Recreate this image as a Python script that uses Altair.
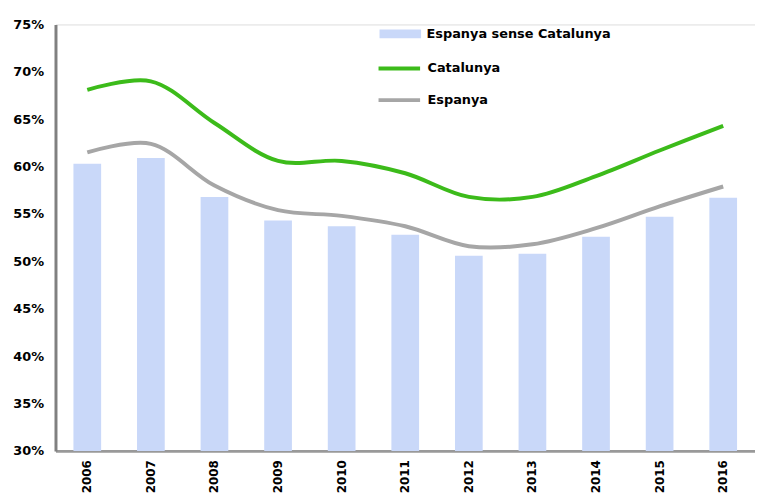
import altair as alt
import pandas as pd

years = ["2006", "2007", "2008", "2009", "2010", "2011", "2012", "2013", "2014", "2015", "2016"]
espanya_sense_cat = [60.3, 60.9, 56.8, 54.3, 53.7, 52.8, 50.6, 50.8, 52.6, 54.7, 56.7]
catalunya = [68.1, 69.0, 64.6, 60.6, 60.6, 59.3, 56.8, 56.8, 59.0, 61.7, 64.3]
espanya = [61.5, 62.4, 58.0, 55.4, 54.8, 53.7, 51.6, 51.8, 53.5, 55.8, 57.9]

bar_name = "Espanya sense Catalunya"
line_names = ["Catalunya", "Espanya"]

bars_df = pd.DataFrame({"year": years, "value": espanya_sense_cat, "serie": bar_name})
lines_df = pd.concat([
    pd.DataFrame({"year": years, "value": catalunya, "serie": "Catalunya"}),
    pd.DataFrame({"year": years, "value": espanya, "serie": "Espanya"}),
])

FONT = "DejaVu Sans"

x = alt.X("year:N", title=None, sort=years,
          scale=alt.Scale(paddingInner=0.56, paddingOuter=0.28),
          axis=alt.Axis(labelAngle=-90, labelFont=FONT, labelFontWeight="bold",
                        labelFontSize=12, labelColor="#000", ticks=False,
                        domainColor="#999999", domainWidth=3, labelPadding=9))
y = alt.Y("value:Q", title=None,
          scale=alt.Scale(domain=[30, 75], zero=False, nice=False),
          axis=alt.Axis(values=list(range(30, 80, 5)), labelExpr="datum.value + '%'",
                        labelFont=FONT, labelFontWeight="bold", labelFontSize=13,
                        labelColor="#000", ticks=False, grid=False,
                        domainColor="#808080", domainWidth=3, labelPadding=12))

bars = alt.Chart(bars_df).mark_bar(size=28).encode(
    x=x, y=y, y2=alt.datum(30),
    fill=alt.Fill("serie:N", scale=alt.Scale(domain=[bar_name], range=["#C9D8F9"]),
                  legend=alt.Legend(title=None, orient="none", legendX=338, legendY=-1,
                                    symbolType="M-2,-0.43H2V0.43H-2Z", symbolSize=441,
                                    symbolStrokeWidth=0, labelFont=FONT, labelFontWeight="bold",
                                    labelFontSize=13, labelColor="#000", labelOffset=16,
                                    labelLimit=0, padding=0)),
)

lines = alt.Chart(lines_df).mark_line(interpolate="catmull-rom", strokeWidth=4).encode(
    x=x, y=y,
    stroke=alt.Stroke("serie:N", scale=alt.Scale(domain=line_names, range=["#3CBB1A", "#A6A6A6"]),
                      legend=alt.Legend(title=None, orient="none", legendX=335, legendY=32,
                                        symbolType="M-2,0H2", symbolSize=441,
                                        symbolStrokeWidth=4, rowPadding=11,
                                        labelFont=FONT, labelFontWeight="bold",
                                        labelFontSize=13, labelColor="#000", labelOffset=16,
                                        labelLimit=0, padding=0)),
)

chart = alt.layer(bars, lines).resolve_scale(fill="independent", stroke="independent").properties(
    width=707, height=431,
    autosize=alt.AutoSizeParams(type="none"),
    padding={"left": 48, "top": 14, "right": 0, "bottom": 45},
).configure_view(stroke=None).configure(background="white")

chart.save("out.html", embed_options={"renderer": "svg", "actions": False})
